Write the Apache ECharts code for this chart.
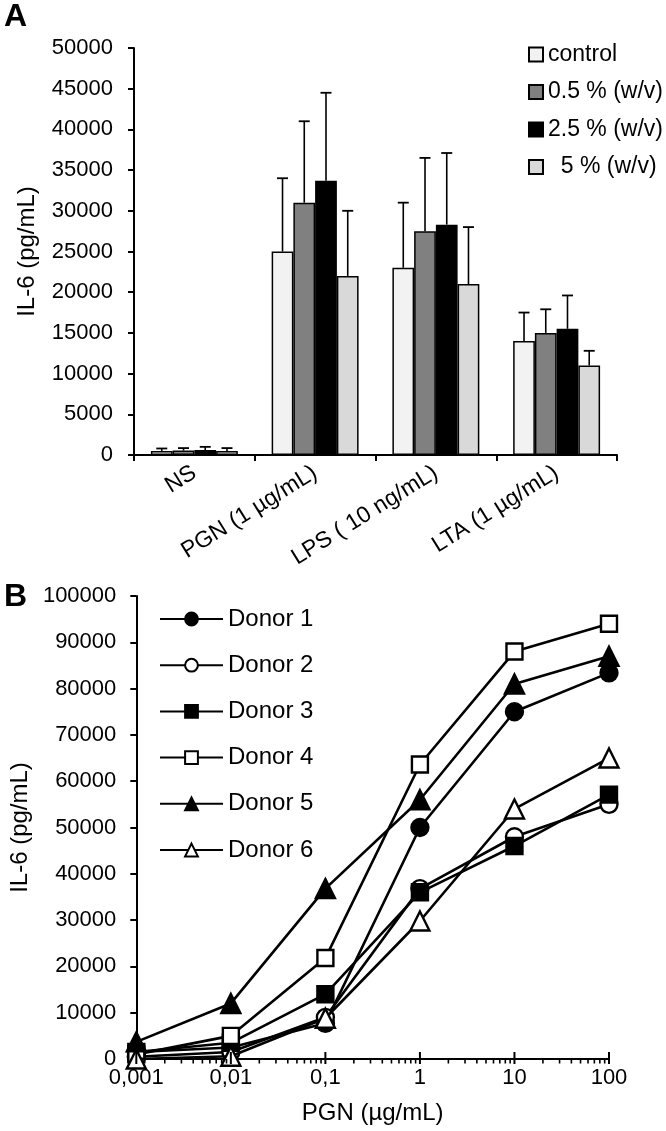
<!DOCTYPE html>
<html><head><meta charset="utf-8">
<script src="https://cdn.jsdelivr.net/npm/echarts@6/dist/echarts.min.js"></script>
<style>html,body{margin:0;padding:0;background:#fff}#c{width:666px;height:1131px}</style>
</head><body><div id="c"></div>
<script>
// ---- Panel A data ----
const categoriesA = ['NS', 'PGN (1 µg/mL)', 'LPS ( 10 ng/mL)', 'LTA (1 µg/mL)'];
const seriesNamesA = ['control', '0.5 % (w/v)', '2.5 % (w/v)', '  5 % (w/v)'];
const controlVals = [500, 25000, 23000, 14000];
const half05Vals = [550, 31000, 27500, 15000];
const two5Vals = [600, 33700, 28300, 15500];
const five5Vals = [500, 22000, 21000, 11000];
const controlErrTop = [800, 34000, 31000, 17500];
const half05ErrTop = [850, 41000, 36500, 17900];
const two5ErrTop = [1000, 44500, 37100, 19600];
const five5ErrTop = [850, 30000, 28000, 12800];
const yTicksA = [0, 50000, 5000];

// ---- Panel B data ----
const pgnDoses = [0.001, 0.01, 0.1, 1, 10, 100];
const pgnTickLabels = ['0,001', '0,01', '0,1', '1', '10', '100'];
const donor1 = [1500, 2500, 7700, 50000, 75000, 83400];
const donor2 = [500, 1500, 9000, 36800, 48000, 55000];
const donor3 = [1500, 3500, 14000, 36000, 46000, 57100];
const donor4 = [1000, 5000, 21800, 63600, 88000, 94000];
const donor5 = [3700, 12000, 36800, 56000, 81000, 87000];
const donor6 = [0, 600, 8800, 29800, 54000, 65000];
const minorMultipliers = [2, 3, 4, 5, 6, 7, 8, 9];

const FONT = 'Liberation Sans';
const chart = echarts.init(document.getElementById('c'), null, {renderer: 'canvas'});

const barValsA = [controlVals, half05Vals, two5Vals, five5Vals];
const errTopsA = [controlErrTop, half05ErrTop, two5ErrTop, five5ErrTop];
const barColors = ['#f2f2f2', '#808080', '#000000', '#d9d9d9'];
const CAT_GAP = 0.28;

const barSeries = seriesNamesA.map((n, i) => ({
  name: n, type: 'bar', xAxisIndex: 0, yAxisIndex: 0,
  data: barValsA[i], barGap: '0%', barCategoryGap: (CAT_GAP * 100) + '%',
  itemStyle: {color: barColors[i], borderColor: '#000', borderWidth: 1.5},
  emphasis: {disabled: true}, z: 2
}));

const errData = [];
for (let s = 0; s < 4; s++) for (let c = 0; c < categoriesA.length; c++) errData.push([c, errTopsA[s][c], barValsA[s][c], s]);

const errSeries = {
  type: 'custom', xAxisIndex: 0, yAxisIndex: 0, z: 3, silent: true,
  data: errData,
  renderItem: function (params, api) {
    const c = api.value(0), top = api.value(1), base = api.value(2), s = api.value(3);
    const band = api.size([1, 0])[0];
    const bw = band * (1 - CAT_GAP) / 4;
    const pTop = api.coord([c, top]);
    const pBase = api.coord([c, base]);
    const x = pTop[0] + (s - 1.5) * bw;
    const cap = 5.5;
    return {type: 'group', children: [
      {type: 'line', shape: {x1: x, y1: pBase[1], x2: x, y2: pTop[1]}, style: {stroke: '#000', lineWidth: 1.6}},
      {type: 'line', shape: {x1: x - cap, y1: pTop[1], x2: x + cap, y2: pTop[1]}, style: {stroke: '#000', lineWidth: 1.8}}
    ]};
  }
};

const donors = [donor1, donor2, donor3, donor4, donor5, donor6];
const donorSymbols = ['circle', 'circle', 'rect', 'rect', 'triangle', 'triangle'];
const donorFilled = [true, false, true, false, true, false];
const lineSeries = donors.map((d, i) => ({
  name: 'Donor ' + (i + 1), type: 'line', xAxisIndex: 1, yAxisIndex: 1,
  data: d.map((v, k) => [pgnDoses[k], v]),
  symbol: donorSymbols[i], symbolSize: donorSymbols[i] === 'triangle' ? 19 : (donorSymbols[i] === 'rect' ? 16 : 17),
  showAllSymbol: true,
  lineStyle: {color: '#000', width: 2.6},
  itemStyle: {color: donorFilled[i] ? '#000' : '#fff', borderColor: '#000', borderWidth: 2.4},
  emphasis: {disabled: true}, z: 4 + i
}));

const tickData = [];
pgnDoses.forEach((d, k) => {
  tickData.push([d, 1]);
  if (k < pgnDoses.length - 1) minorMultipliers.forEach(m => tickData.push([d * m, 0]));
});
const tickSeries = {
  type: 'custom', xAxisIndex: 1, yAxisIndex: 1, z: 10, silent: true, clip: false,
  data: tickData,
  renderItem: function (params, api) {
    const p = api.coord([api.value(0), 0]);
    const major = api.value(1) === 1;
    return {type: 'line', shape: {x1: p[0], y1: major ? p[1] - 7 : p[1], x2: p[0], y2: p[1] + (major ? 5 : 4.5)},
      style: {stroke: '#000', lineWidth: major ? 2 : 1.6}};
  }
};

const axisLabelStyle = {color: '#000', fontFamily: FONT, fontSize: 22};
const plainNum = v => String(v);

chart.setOption({
  animation: false,
  backgroundColor: '#fff',
  title: [
    {text: 'A', left: -1, top: -4, textStyle: {fontFamily: FONT, fontWeight: 900, fontSize: 32, color: '#000'}},
    {text: 'B', left: -1, top: 576, textStyle: {fontFamily: FONT, fontWeight: 900, fontSize: 32, color: '#000'}}
  ],
  legend: [
    {data: seriesNamesA, orient: 'vertical', left: 523, top: 38, itemWidth: 14, itemHeight: 14, itemGap: 14.5,
      icon: 'rect', textStyle: {fontFamily: FONT, fontSize: 23, color: '#000'}, selectedMode: false},
    {data: lineSeries.map(s => s.name), orient: 'vertical', left: 154, top: 602, itemWidth: 63, itemHeight: 16, itemGap: 22.2,
      textStyle: {fontFamily: FONT, fontSize: 24, color: '#000'}, selectedMode: false}
  ],
  grid: [
    {left: 134, top: 48, width: 483, height: 407, containLabel: false},
    {left: 135, top: 596, width: 474, height: 463, containLabel: false}
  ],
  xAxis: [
    {type: 'category', gridIndex: 0, data: categoriesA,
      axisLine: {lineStyle: {color: '#000', width: 2}},
      axisTick: {show: true, length: 6, lineStyle: {color: '#000', width: 2}},
      axisLabel: Object.assign({}, axisLabelStyle, {fontSize: 23, rotate: 32, interval: 0, margin: 16}),
      splitLine: {show: false}},
    {type: 'log', gridIndex: 1, logBase: 10, min: pgnDoses[0], max: pgnDoses[pgnDoses.length - 1],
      name: 'PGN (µg/mL)', nameLocation: 'middle', nameGap: 42,
      nameTextStyle: {fontFamily: FONT, fontSize: 24, color: '#000'},
      axisLine: {lineStyle: {color: '#000', width: 2}},
      axisTick: {show: false}, minorTick: {show: false},
      axisLabel: Object.assign({}, axisLabelStyle, {margin: 8, formatter: v => pgnTickLabels[Math.round(Math.log10(v)) + 3]}),
      splitLine: {show: false}}
  ],
  yAxis: [
    {type: 'value', gridIndex: 0, min: yTicksA[0], max: yTicksA[1], interval: yTicksA[2],
      name: 'IL-6 (pg/mL)', nameLocation: 'middle', nameGap: 95,
      nameTextStyle: {fontFamily: FONT, fontSize: 24, color: '#000'},
      axisLine: {show: true, lineStyle: {color: '#000', width: 2}},
      axisTick: {show: true, length: 6, lineStyle: {color: '#000', width: 2}},
      axisLabel: Object.assign({}, axisLabelStyle, {margin: 21, formatter: plainNum}),
      splitLine: {show: false}},
    {type: 'value', gridIndex: 1, min: 0, max: 100000, interval: 10000,
      name: 'IL-6 (pg/mL)', nameLocation: 'middle', nameGap: 99,
      nameTextStyle: {fontFamily: FONT, fontSize: 24, color: '#000'},
      axisLine: {show: true, lineStyle: {color: '#000', width: 2}},
      axisTick: {show: true, length: 6, lineStyle: {color: '#000', width: 2}},
      axisLabel: Object.assign({}, axisLabelStyle, {margin: 20, formatter: plainNum}),
      splitLine: {show: false}}
  ],
  series: [...barSeries, errSeries, ...lineSeries, tickSeries]
});
</script></body></html>
